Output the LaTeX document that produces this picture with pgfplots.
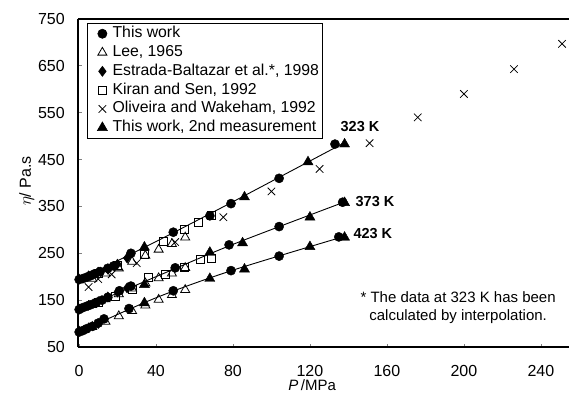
\documentclass[border=0pt]{standalone}
\usepackage{pgfplots}
\usepackage{pgfplotstable}
\pgfplotsset{compat=1.18}
\usepackage{fontspec}
\setmainfont{Liberation Sans}

% viscosity (eta) versus pressure P at 323, 373 and 423 K
\pgfplotstableread{
P eta
0.1 194
2 196
4 199
6 202
8 206
11 211
15 218
18 223
27 250
49 295
68 330
79 356
104 410
133 483
0.1 130
2 134
4 137
6 140
9 145
12 150
15 156
21 170
27 180
50 219
78 268
104 307
137 359
0.1 82
2 85
4 89
7 94
10 101
13 110
26 132
49 170
79 213
104 244
135 285
}\thiswork

\pgfplotstableread{
P eta
6.9 196
13.8 207
20.7 218
27.6 232
34.5 245
41.4 258
48.3 270
55.2 284
6.9 140
13.8 152
20.7 163
27.6 175
34.5 186
41.4 197
48.3 207
55.2 219
6.9 93
13.8 104
20.7 116
27.6 127
34.5 139
41.4 151
48.3 161
55.2 172
}\lee

\pgfplotstableread{
P eta
0.1 195
5 202
10 210
15 216
20 227
25 240
0.1 131
5 139
10 147
15 157
20 167
25 176
0.1 84
5 91
10 100
}\estrada

\pgfplotstableread{
P eta
10 207
20 225
34 247
44 275
55 302
62 315
69 330
10 145
19 158
28 172
36 198
44.7 204
55 220
63 236
69 240
}\kiran

\pgfplotstableread{
P eta
5 178
10 195
17 205
30 229
50 274
75 327
100 382
125 430
151 485
176 540
200 590
226 643
251 697
}\oliveira

\pgfplotstableread{
P eta
34 263
86 370
119 445
138 483
34 183
68 252
85 272
120 327
138 358
34 144
68 196
86 216
120 264
138 284
}\second

% smooth correlations through the measurements
\pgfplotstableread{
P eta
0 193
40 275
80 360
137 484
}\fitA
\pgfplotstableread{
P eta
0 130
40 200
80 269
137 358
}\fitB
\pgfplotstableread{
P eta
0 82
40 155
80 214
137 285
}\fitC

\begin{document}
\begin{tikzpicture}
\begin{axis}[
  at={(78pt,45pt)}, anchor=south west,
  scale only axis, width=491pt, height=328pt,
  xmin=-0.5, xmax=254.6, ymin=50, ymax=750,
  axis x line*=box, axis y line*=left,
  axis line style={line width=1.5pt},
  xtick={0,40,...,240}, ytick={50,150,...,750},
  xtick pos=left, ytick pos=left,
  tick align=inside, major tick length=3.5pt,
  tick style={line width=0.8pt},
  /pgf/number format/assume math mode=true,
  tick label style={font=\fontsize{16}{19}\selectfont},
  xticklabel style={anchor=base, yshift=-29pt},
  yticklabel style={anchor=east, inner sep=0pt, xshift=-13pt},
  xlabel={\textit{P}\,/MPa},
  xlabel style={at={(axis description cs:0.477,0)}, anchor=base, yshift=-43pt,
    inner sep=0pt, font=\fontsize{15}{17}\selectfont},
  ylabel={$\eta$/ Pa.s},
  ylabel style={at={(axis description cs:0,0.506)}, anchor=base, yshift=47pt,
    font=\fontsize{16}{19}\selectfont},
  legend style={at={(axis description cs:0.0183,0.988)}, anchor=north west,
    draw=black, line width=0.6pt, fill=white,
    font=\fontsize{15.8}{18}\selectfont, inner xsep=2pt, inner ysep=3pt,
    row sep=3.8pt,
    nodes={inner ysep=0pt, inner xsep=1.5pt, text height=11.5pt, text depth=3.5pt}},
  legend cell align=left,
  legend image code/.code={\path (0pt,0pt) (21pt,0pt); \draw plot coordinates {(12.7pt,0pt)};},
]
\addplot[black, line width=0.9pt, smooth, forget plot] table {\fitA};
\addplot[black, line width=0.9pt, smooth, forget plot] table {\fitB};
\addplot[black, line width=0.9pt, smooth, forget plot] table {\fitC};

\addplot[only marks, mark=*, mark size=4.6pt, black] table {\thiswork};
\addlegendentry{This work}
\addplot[only marks, mark=triangle, mark size=5.2pt, black, line width=0.8pt,
  mark options={fill=white}] table {\lee};
\addlegendentry{Lee, 1965}
\addplot[only marks, mark=diamond*, mark size=5pt, black] table {\estrada};
\addlegendentry{Estrada-Baltazar et al.*, 1998}
\addplot[only marks, mark=square, mark size=4pt, black, line width=0.8pt,
  mark options={fill=white}] table {\kiran};
\addlegendentry{Kiran and Sen, 1992}
\addplot[only marks, mark=x, mark size=5.3pt, black, line width=0.8pt] table {\oliveira};
\addlegendentry{Oliveira and Wakeham, 1992}
\addplot[only marks, mark=triangle*, mark size=5.8pt, black] table {\second};
\addlegendentry{This work, 2nd measurement}

\node[font=\bfseries\fontsize{14.5}{17}\selectfont] at (axis cs:146,520) {323 K};
\node[font=\bfseries\fontsize{14.5}{17}\selectfont] at (axis cs:153.8,360) {373 K};
\node[font=\bfseries\fontsize{14.5}{17}\selectfont] at (axis cs:152.7,293) {423 K};
\node[align=center, font=\fontsize{15}{18.3}\selectfont] at (axis cs:197,134)
  {* The data at 323 K has been\\calculated by interpolation.};
\end{axis}
\pgfresetboundingbox
\path[use as bounding box] (0,0) rectangle (569pt,392pt);
\end{tikzpicture}
\end{document}
